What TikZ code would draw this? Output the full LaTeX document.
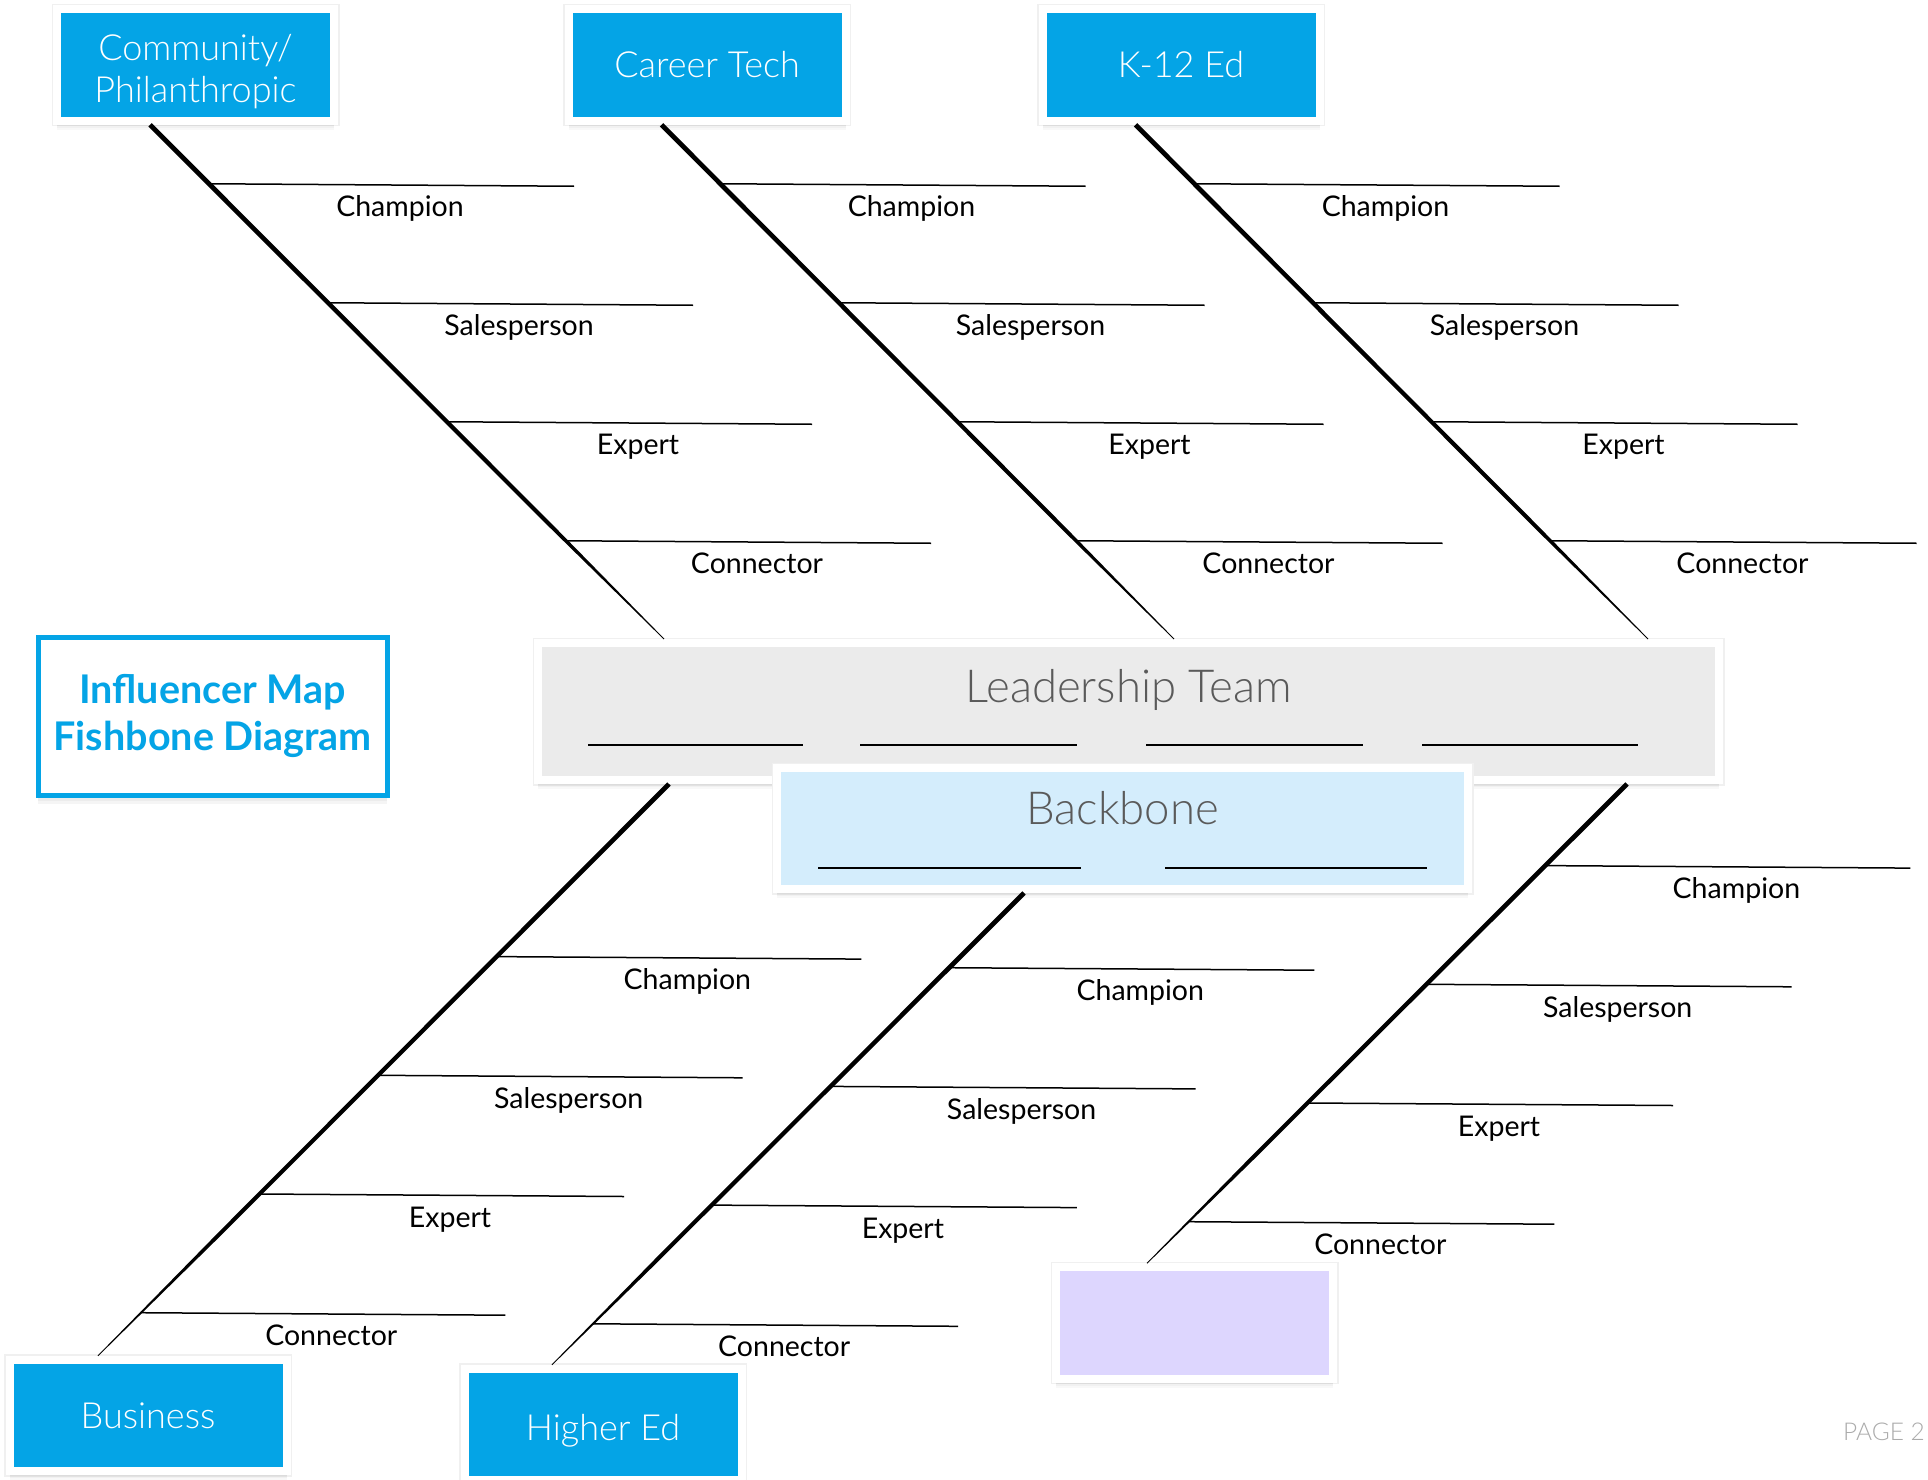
\documentclass[tikz,border=0pt]{standalone}
\usepackage{fontspec}
\setmainfont{Lato}
\newfontfamily\lightfont{Lato Light}
\usetikzlibrary{shadows,calc}
\definecolor{catblue}{HTML}{04A4E6}
\definecolor{leadgray}{HTML}{EBEBEB}
\definecolor{backblue}{HTML}{D4EDFC}
\definecolor{openlilac}{HTML}{DDD6FE}
\definecolor{headgray}{HTML}{5A5A5A}
\definecolor{pagegray}{HTML}{ABABAB}

\begin{document}
\begin{tikzpicture}[%
    x=1pt, y=-1pt,              % Work in page pixels, origin top left
    ]
% -------------------------------------------------
% A few box styles
% <card> gives the white frame and the soft shadow round every box
\tikzset{
  soft/.style={
    preaction={draw=black!6, line width=11pt},
    drop shadow={opacity=0.06, shadow xshift=0pt, shadow yshift=-5pt},
    drop shadow={opacity=0.06, shadow xshift=0pt, shadow yshift=-7pt},
    drop shadow={opacity=0.06, shadow xshift=0pt, shadow yshift=-9pt}},
  card/.style={soft, draw=white, line width=8pt, inner sep=0pt},
  cat/.style={card, fill=catblue, text=white, align=center,
    minimum width=277pt, minimum height=111.5pt,
    font=\lightfont\fontsize{36}{42}\selectfont},
  head/.style={anchor=base, text=headgray,
    font=\lightfont\fontsize{45.5}{48}\selectfont},
  % Line styles for the bones, the ribs and the blanks to fill in
  bone/.style={fill=black},
  rib/.style={draw, line width=1.5pt},
  blank/.style={draw, line width=2.5pt},
  role/.style={anchor=base, font=\fontsize{28.5}{30}\selectfont}
}
\useasboundingbox (0,0) rectangle (1928,1480);
% -------------------------------------------------
% Start by placing the boxes
\node [cat] (comm)   at (195.5,65)    {\raisebox{-38pt}[0pt][0pt]{%
  \begin{tabular}[b]{@{}c@{}}Community/\\Philanthropic\end{tabular}}};
\node [cat] (career) at (707,65)      {Career Tech};
\node [cat] (k12)    at (1181,65)     {K-12 Ed};
\node [cat] (bus)    at (148,1415.5)  {\raisebox{-12.5pt}[0pt][0pt]{Business}};
\node [cat] (higher) at (603,1424.5)  {\raisebox{-15.5pt}[0pt][0pt]{Higher Ed}};
\node [cat, fill=openlilac] (open) at (1194.5,1323) {};

\node [card, fill=leadgray, minimum width=1181pt, minimum height=137pt]
  (lead) at (1128.5,711.5) {};
\node [card, fill=backblue, minimum width=691pt, minimum height=121pt]
  (back) at (1122.5,828.5) {};
\node [head] (leadT) at (1128.5,702) {Leadership Team};
\node [head] (backT) at (1122.5,824) {Backbone};
\foreach \a/\b in {588/803, 860/1077, 1146/1363, 1422/1638}
  \draw [blank] (\a,745) -- (\b,745);
\foreach \a/\b in {818/1081, 1165/1427}
  \draw [blank] (\a,868) -- (\b,868);

\node [draw=catblue, line width=5pt, fill=white, text=catblue, align=center,
  minimum width=349pt, minimum height=158pt,
  drop shadow={opacity=0.08, shadow xshift=0pt, shadow yshift=-6pt},
  drop shadow={opacity=0.08, shadow xshift=0pt, shadow yshift=-9pt},
  font=\bfseries\fontsize{39.5}{46.5}\selectfont]
  (title) at (212.7,716) {Influencer Map\\Fishbone Diagram};
\node [anchor=base east, inner sep=0pt, text=pagegray,
  font=\lightfont\fontsize{24.5}{26}\selectfont] (page) at (1925,1440) {PAGE 2};

% -------------------------------------------------
% Upper bones run from the boxes down to the leadership team
\foreach \br/\ex in {comm/-464.5, career/45.5, k12/519.5}{
  \coordinate (\br-s) at ([xshift=-45.5pt]\br.south);
  \coordinate (\br-e) at ([xshift=\ex pt]lead.north);
  \coordinate (\br-m) at ($(\br-s)!0.78!(\br-e)$);
  \fill [bone] ($(\br-s)!2.4pt!90:(\br-e)$) -- ($(\br-m)!2pt!90:(\br-e)$)
    -- ($(\br-e)!0.4pt!-90:(\br-s)$) -- ($(\br-e)!0.4pt!90:(\br-s)$)
    -- ($(\br-m)!2pt!-90:(\br-e)$) -- ($(\br-s)!2.4pt!-90:(\br-e)$) -- cycle;
  \foreach \role [count=\k from 0] in {Champion, Salesperson, Expert, Connector}{
    \coordinate (\br-\k) at ($(\br-s)+(59+119*\k,59+119*\k)$);
    \draw [rib] (\br-\k) -- ++(365,2.5);
    \node [role] (\br-r\k) at ($(\br-\k)+(191,33)$) {\role};
  }
}
% Lower bones run from the spine down to the boxes
\foreach \src/\sx/\br/\ex/\dz in {lead/-459.5/bus/-50/172.6,
    back/-98.5/higher/-51/74.7, lead/498.5/open/-47.5/81.6}{
  \coordinate (\br-s) at ([xshift=\sx pt]\src.south);
  \coordinate (\br-e) at ([xshift=\ex pt]\br.north);
  \coordinate (\br-m) at ($(\br-s)!0.78!(\br-e)$);
  \fill [bone] ($(\br-s)!2.4pt!90:(\br-e)$) -- ($(\br-m)!2pt!90:(\br-e)$)
    -- ($(\br-e)!0.4pt!-90:(\br-s)$) -- ($(\br-e)!0.4pt!90:(\br-s)$)
    -- ($(\br-m)!2pt!-90:(\br-e)$) -- ($(\br-s)!2.4pt!-90:(\br-e)$) -- cycle;
  \foreach \role [count=\k from 0] in {Champion, Salesperson, Expert, Connector}{
    \coordinate (\br-\k) at ($(\br-s)+(-\dz-118.7*\k,\dz+118.7*\k)$);
    \draw [rib] (\br-\k) -- ++(365,2.5);
    \node [role] (\br-r\k) at ($(\br-\k)+(191,33)$) {\role};
  }
}
% -------------------------------------------------
\end{tikzpicture}
\end{document}
